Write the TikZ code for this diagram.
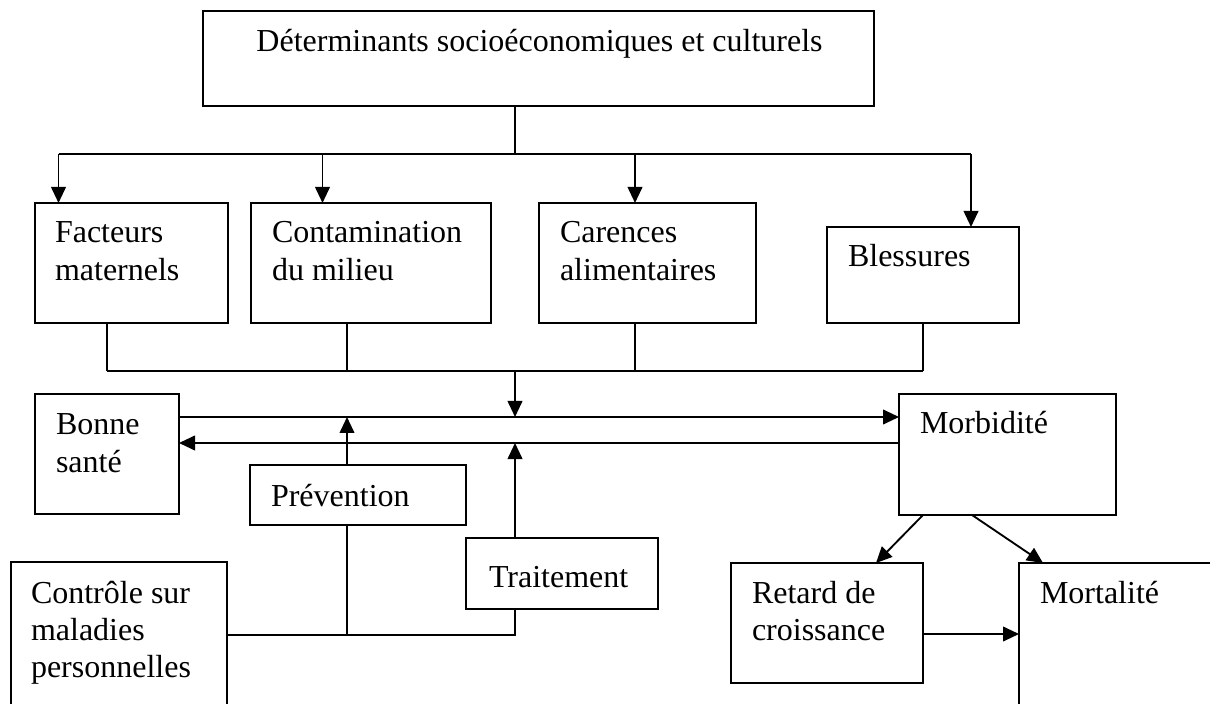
\documentclass[tikz,border=0pt]{standalone}
\usepackage{fontspec}
\setmainfont{Liberation Serif}
\usetikzlibrary{arrows.meta,fit}
\begin{document}
\begin{tikzpicture}[x=0.375pt,y=-0.375pt,
  box/.style={draw, line width=0.7pt, inner sep=0pt, outer sep=0pt},
  lbl/.style={inner sep=0pt, outer sep=0pt, align=left, font=\fontsize{12}{13.9}\selectfont},
  conn/.style={line width=0.7pt},
  arr/.style={conn, -{Triangle[length=6pt,width=5.5pt]}}]
\useasboundingbox (0,0) rectangle (1210,704);
\clip (0,0) rectangle (1210,704);
\fill[white] (0,0) rectangle (1210,704);
\newcommand\bx[5]{\path (#2,#3) coordinate (#1-nw) (#4,#5) coordinate (#1-se);
  \node[box, fit=(#1-nw)(#1-se)] (#1) {};}
\newcommand\tx[4]{\node[lbl, anchor=north west] (#1) at (#2,{#3-25.95}) {\strut #4};}
% boxes
\bx{T}{203}{11}{874}{106}
\bx{F}{35}{203}{228}{323}
\bx{C}{251}{203}{491}{323}
\bx{Ca}{539}{203}{756}{323}
\bx{B}{827}{227}{1019}{323}
\bx{BS}{35}{394}{179}{514}
\bx{P}{250}{465}{466}{525}
\bx{Tr}{466}{538}{658}{609}
\bx{Co}{11}{562}{227}{760}
\bx{M}{899}{394}{1116}{515}
\bx{R}{731}{563}{923}{683}
\bx{Mo}{1019}{563}{1260}{760}
% texts
\node[lbl, anchor=base] (Tt) at (539.5,52) {Déterminants socioéconomiques et culturels};
\tx{Ft}{55}{243}{Facteurs\\maternels}
\tx{Ct}{272}{243}{Contamination\\du milieu}
\tx{Cat}{560}{243}{Carences\\alimentaires}
\node[lbl, anchor=base west] (Bt) at (848,267) {Blessures};
\tx{BSt}{56}{435}{Bonne\\santé}
\node[lbl, anchor=base west] (Pt) at (271,506) {Prévention};
\node[lbl, anchor=base west] (Trt) at (489,587) {Traitement};
\tx{Cot}{31}{603}{Contrôle sur\\maladies\\personnelles}
\node[lbl, anchor=base west] (Mt) at (920,434) {Morbidité};
\tx{Rt}{752}{603}{Retard de\\croissance}
\node[lbl, anchor=base west] (Mot) at (1040,603) {Mortalité};
% coordinates
\coordinate (tj) at (515,154);
\coordinate (b1) at (58.5,154);
\coordinate (b2) at (322.5,154);
\coordinate (b3) at (635,154);
\coordinate (b4) at (971,154);
\coordinate (f1) at (107,371);
\coordinate (f2) at (347,371);
\coordinate (f3) at (635,371);
\coordinate (f4) at (923,371);
\coordinate (jc) at (515,371);
\coordinate (hu) at (0,417);
\coordinate (hl) at (0,443);
\coordinate (pv) at (347,0);
\coordinate (tv) at (515,0);
\coordinate (cl) at (0,635);
\coordinate (m1) at (923,0);
\coordinate (r1) at (876,0);
\coordinate (m2) at (972,0);
\coordinate (o1) at (1043,0);
\coordinate (rm) at (0,634);
% top distribution
\draw[conn] (tj |- T.south) -- (tj);
\draw[conn] (b1) -- (b4);
\draw[arr] (b1) -- (b1 |- F.north);
\draw[arr] (b2) -- (b2 |- C.north);
\draw[arr] (b3) -- (b3 |- Ca.north);
\draw[arr] (b4) -- (b4 |- B.north);
% collection
\draw[conn] (f1 |- F.south) -- (f1);
\draw[conn] (f2 |- C.south) -- (f2);
\draw[conn] (f3 |- Ca.south) -- (f3);
\draw[conn] (f4 |- B.south) -- (f4);
\draw[conn] (f1) -- (f4);
\draw[arr] (jc) -- (jc |- hu);
% health lines
\draw[arr] (BS.east |- hu) -- (M.west |- hu);
\draw[arr] (M.west |- hl) -- (BS.east |- hl);
\draw[arr] (P.north -| pv) -- (pv |- hu);
\draw[arr] (Tr.north -| tv) -- (tv |- hl);
\draw[conn] (P.south -| pv) -- (pv |- cl);
\draw[conn] (Co.east |- cl) -- (tv |- cl) -- (Tr.south -| tv);
% outcomes
\draw[arr] (M.south -| m1) -- (R.north -| r1);
\draw[arr] (M.south -| m2) -- (Mo.north -| o1);
\draw[arr] (R.east |- rm) -- (Mo.west |- rm);
\end{tikzpicture}
\end{document}
